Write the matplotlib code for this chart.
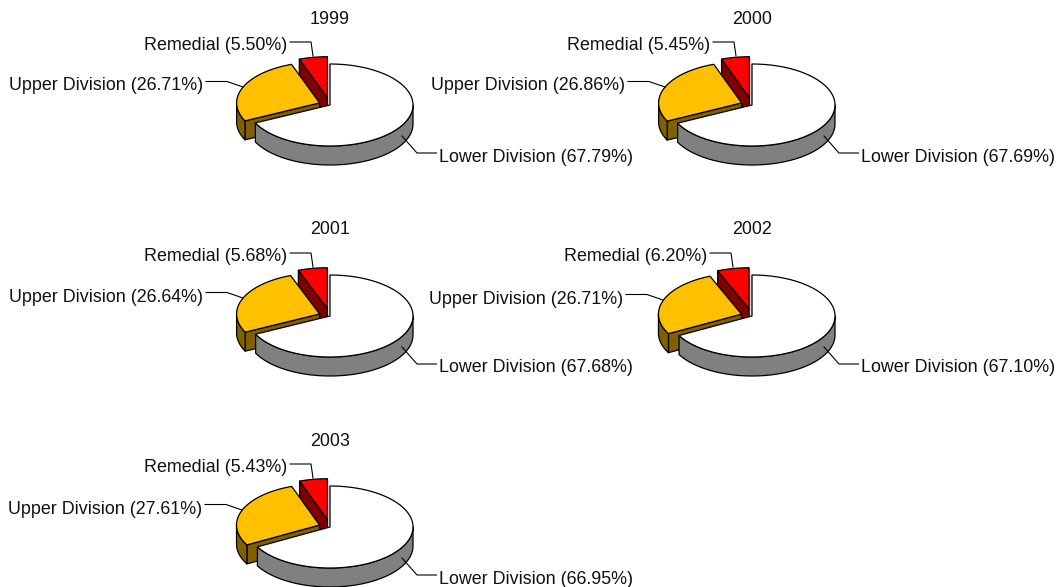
#!/usr/bin/env python3
# -*- coding: utf-8 -*-
import numpy as np
import matplotlib
matplotlib.use('Agg')
import matplotlib.pyplot as plt
from matplotlib.patches import Polygon

plt.rcParams['font.family'] = ['Liberation Sans', 'DejaVu Sans']

years = ['1999', '2000', '2001', '2002', '2003']
lower = [67.79, 67.69, 67.68, 67.10, 66.95]
upper = [26.71, 26.86, 26.64, 26.71, 27.61]
remedial = [5.50, 5.45, 5.68, 6.20, 5.43]

# top left corner of each small chart, pixels
dx = [0, 422, 0, 422, 0]
dy = [0, 0, 211, 211, 422]
# small nudges of the left labels and their leaders, pixels
rem_nudge = [0, 1, 0, -2, 0]
upp_nudge = [0, 0, 0, -2, -1]
upp_ynudge = [0, 0, 0, 2, 1]

W, H = 1058, 587
CX, CY = 330, 105
RX, RY = 83, 41
DEPTH = 19
FS = 12.9
TXT = '#111111'

fig = plt.figure(figsize=(W/100, H/100), dpi=100)
ax = fig.add_axes([0, 0, 1, 1])
ax.set_xlim(0, W)
ax.set_ylim(H, 0)
ax.axis('off')


def arc(cx, cy, a0, a1):
    t = np.radians(np.linspace(a0, a1, 90))
    return np.column_stack((cx+RX*np.cos(t), cy-RY*np.sin(t)))


def face(pts, color, z):
    ax.add_patch(Polygon(pts, closed=True, fc=color, ec='black', lw=0.9, zorder=z, joinstyle='round'))


def wedge(cx, cy, a0, a1, top, side, explode, z, cut=None):
    """Slice from angle a0 to a1 (degrees, a0 < a1), cut = angle of the visible straight edge"""
    mid = np.radians((a0+a1)/2)
    x = cx+explode*RX*np.cos(mid)
    y = cy-explode*RY*np.sin(mid)
    if cut is not None:
        end = arc(x, y, cut, cut)[0]
        face([(x, y), end, end+(0, DEPTH), (x, y+DEPTH)], side, z)
    # outer rim, only the part under the horizontal axis faces the viewer
    lo, hi = max(a0, 180), min(a1, 360)
    if lo < hi:
        rim = arc(x, y, lo, hi)
        face(np.vstack((rim, (rim+(0, DEPTH))[::-1])), side, z+0.1)
    face(np.vstack(([(x, y)], arc(x, y, a0, a1))), top, z+0.2)


for i in range(len(years)):
    ox, oy = dx[i], dy[i]
    cx, cy = CX+ox, CY+oy
    # clockwise from the top: lower, upper, remedial
    a_low = 450-lower[i]*3.6
    a_upp = a_low-upper[i]*3.6

    ax.text(cx, 23.5+oy, years[i], ha='center', va='baseline', fontsize=FS, color=TXT)

    # back to front: remedial, upper, lower
    wedge(cx, cy, 90, a_upp, '#ff0000', '#800000', 0.18, 1, cut=a_upp)
    wedge(cx, cy, a_upp, a_low, '#ffc000', '#806000', 0.135, 2, cut=a_low)
    # light sliver between red slice and the white one
    ax.add_patch(Polygon([(cx-3, cy-41), (cx, cy-41), (cx, cy), (cx-3, cy)], closed=True,
                         fc='#dddddd', ec='none', zorder=0.5))
    wedge(cx, cy, a_low, 450, 'white', '#808080', 0, 3)

    # leader lines and labels
    rn, un, uy = rem_nudge[i], upp_nudge[i], upp_ynudge[i]
    ax.plot([290+ox+rn, 311+ox+rn, 313+ox+rn], [42+oy, 42+oy, 56+oy], color='black', lw=0.8, zorder=5)
    ax.plot([206+ox+un, 227+ox+un, 243+ox+un], [81.5+oy+uy, 81.5+oy+uy, 87+oy+uy], color='black', lw=0.8, zorder=5)
    ax.plot([402+ox, 417+ox, 436.5+ox], [136+oy, 153+oy, 153+oy], color='black', lw=0.8, zorder=5)
    ax.text(287+ox+rn, 50+oy, 'Remedial ({:.2f}%)'.format(remedial[i]), ha='right', va='baseline', fontsize=FS, color=TXT)
    ax.text(203+ox+un, 90.5+oy+uy, 'Upper Division ({:.2f}%)'.format(upper[i]), ha='right', va='baseline', fontsize=FS, color=TXT)
    ax.text(439+ox, 161.5+oy, 'Lower Division ({:.2f}%)'.format(lower[i]), ha='left', va='baseline', fontsize=FS, color=TXT)

fig.savefig('out.png', dpi=100)
